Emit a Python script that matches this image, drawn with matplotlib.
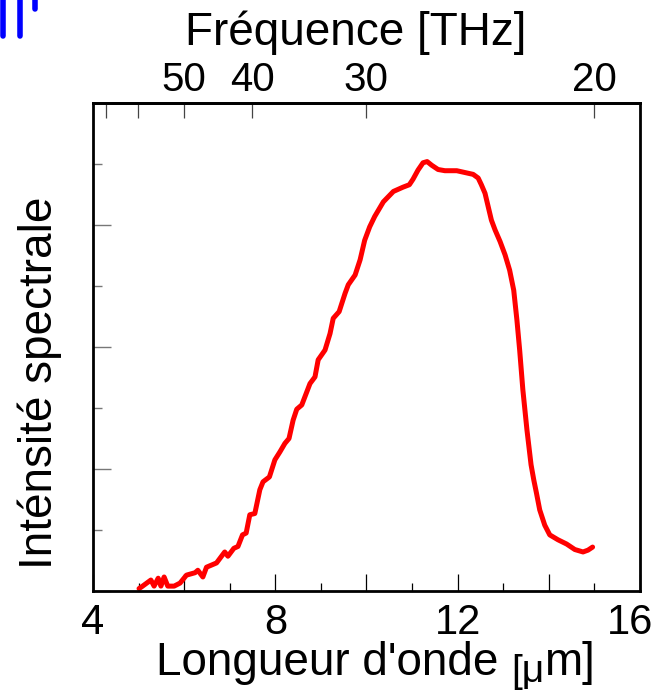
import numpy as np
import matplotlib
matplotlib.use("Agg")
import matplotlib.pyplot as plt
from matplotlib.lines import Line2D
from matplotlib.ticker import FixedLocator, FixedFormatter
import matplotlib.transforms as mtransforms

plt.rcParams['font.family'] = ['Liberation Sans', 'DejaVu Sans']

# ---- data ----
wavelength_um = [5.01, 5.07, 5.27, 5.34, 5.43, 5.49, 5.56, 5.64, 5.78, 5.91,
                 6.05, 6.24, 6.30, 6.41, 6.49, 6.71, 6.89, 6.96, 7.09, 7.18,
                 7.28, 7.36, 7.44, 7.55, 7.66, 7.73, 7.87, 7.99, 8.10, 8.21,
                 8.30, 8.39, 8.47, 8.58, 8.76, 8.87, 8.94, 9.09, 9.20, 9.27,
                 9.40, 9.53, 9.60, 9.75, 9.86, 9.96, 10.07, 10.18, 10.37, 10.59,
                 10.80, 10.94, 11.02, 11.13, 11.24, 11.33, 11.43, 11.57, 11.72, 11.98,
                 12.16, 12.34, 12.45, 12.52, 12.60, 12.67, 12.74, 12.82, 12.93, 13.04,
                 13.14, 13.23, 13.30, 13.36, 13.43, 13.52, 13.61, 13.67, 13.73, 13.80,
                 13.91, 14.02, 14.20, 14.39, 14.57, 14.75, 14.86, 14.96]
intensity = [0.04, 0.07, 0.18, 0.08, 0.21, 0.08, 0.23, 0.08, 0.08, 0.13,
             0.26, 0.30, 0.34, 0.23, 0.39, 0.46, 0.64, 0.57, 0.70, 0.73,
             0.92, 0.95, 1.25, 1.27, 1.66, 1.79, 1.87, 2.15, 2.28, 2.42,
             2.50, 2.80, 2.98, 3.05, 3.40, 3.51, 3.79, 3.95, 4.22, 4.47,
             4.58, 4.88, 5.02, 5.18, 5.43, 5.75, 5.97, 6.14, 6.38, 6.55,
             6.62, 6.66, 6.75, 6.90, 7.02, 7.04, 6.98, 6.91, 6.89, 6.89,
             6.86, 6.83, 6.77, 6.66, 6.52, 6.30, 6.08, 5.92, 5.73, 5.51,
             5.26, 4.93, 4.44, 3.95, 3.30, 2.64, 2.07, 1.82, 1.60, 1.33,
             1.08, 0.92, 0.84, 0.77, 0.68, 0.64, 0.67, 0.72]

x_major = [4, 6, 8, 10, 12, 14, 16]
x_major_labels = ['4', '', '8', '', '12', '', '16']
x_minor = [5, 7, 9, 11, 13, 15]
y_major = [0, 2, 4, 6, 8]
y_minor = [1, 3, 5, 7]
freq_ticks = [70, 60, 50, 40, 30, 20]
freq_labels = ['', '', '50', '40', '30', '20']
C_UM_THZ = 299.792458

# ---- figure ----
W, H = 660, 693
fig = plt.figure(figsize=(W / 100, H / 100), dpi=100)
ax = fig.add_axes([93 / W, 1 - 591 / H, (640 - 93) / W, (591 - 103) / H])

ax.plot(wavelength_um, intensity, color='#ff0000', lw=3.6, solid_capstyle='round',
        solid_joinstyle='round')

ax.set_xlim(4, 16)
ax.set_ylim(0, 8)

for s in ax.spines.values():
    s.set_linewidth(2.0)
    s.set_color('black')

ax.xaxis.set_major_locator(FixedLocator(x_major))
ax.xaxis.set_major_formatter(FixedFormatter(x_major_labels))
ax.xaxis.set_minor_locator(FixedLocator(x_minor))
ax.yaxis.set_major_locator(FixedLocator(y_major))
ax.yaxis.set_minor_locator(FixedLocator(y_minor))
ax.set_yticklabels([])

ax.tick_params(axis='x', which='major', direction='in', length=12, width=0.9,
               color='black', labelsize=30, pad=9, top=False)
ax.tick_params(axis='x', which='minor', direction='in', length=6, width=0.9,
               color='black', top=False)
ax.tick_params(axis='y', which='major', direction='in', length=13, width=1.0,
               color='#777777', right=False)
ax.tick_params(axis='y', which='minor', direction='in', length=6.5, width=1.0,
               color='#777777', right=False)

# shift the last bottom label ("16") a bit left, as in the reference
shift = mtransforms.ScaledTranslation(-10 / 100, 0, fig.dpi_scale_trans)
for t in ax.xaxis.get_major_ticks()[-1:]:
    t.label1.set_transform(t.label1.get_transform() + shift)


def wl2f(x):
    x = np.asarray(x, dtype=float)
    with np.errstate(divide='ignore', invalid='ignore'):
        return C_UM_THZ / x


secax = ax.secondary_xaxis('top', functions=(wl2f, wl2f))
secax.xaxis.set_major_locator(FixedLocator(freq_ticks))
secax.xaxis.set_major_formatter(FixedFormatter(freq_labels))
secax.xaxis.set_minor_locator(FixedLocator([]))
secax.tick_params(axis='x', which='major', direction='in', length=11, width=0.9,
                  color='#444444', labelsize=29, pad=3)
secax.spines['top'].set_linewidth(2.0)

# axis labels
LABEL_FS = 33
fig.text(185 / W, 1 - 45 / H, 'Fréquence [THz]', fontsize=LABEL_FS, ha='left',
         va='baseline')
fig.text(40 / W, 1 - 383 / H, 'Inténsité spectrale',
         fontsize=LABEL_FS, rotation=90, ha='center', va='center')

# bottom label in three pieces: "Longueur d'onde " + lowered smaller "[μ" + "m]"
renderer = fig.canvas.get_renderer()
base_y = 1 - 675 / H
t1 = fig.text(156 / W, base_y, "Longueur d'onde ", fontsize=LABEL_FS,
              ha='left', va='baseline')
bb1 = t1.get_window_extent(renderer)
t2 = fig.text(bb1.x1 / W, base_y - 7 / H, "[μ", fontsize=LABEL_FS * 0.85,
              ha='left', va='baseline')
bb2 = t2.get_window_extent(renderer)
fig.text(bb2.x1 / W, base_y, "m]", fontsize=LABEL_FS, ha='left', va='baseline')

# cropped blue strokes from a neighbouring figure (top-left corner)
for x0, y1 in [(2.5, 36), (20, 36), (35, 9)]:
    fig.add_artist(Line2D([x0 / W, x0 / W], [1.0, 1 - y1 / H],
                          transform=fig.transFigure, color='#0000ff', lw=4,
                          solid_capstyle='round'))

fig.savefig('out.png', dpi=100)
